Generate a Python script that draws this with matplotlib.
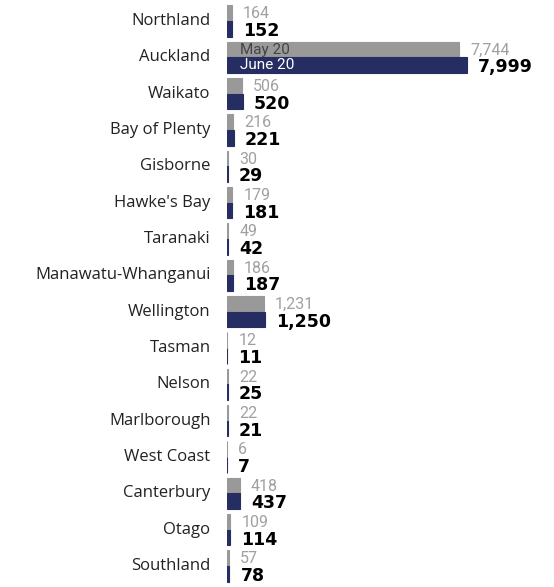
import numpy as np
import matplotlib.pyplot as plt

regions = ["Northland", "Auckland", "Waikato", "Bay of Plenty", "Gisborne",
           "Hawke's Bay", "Taranaki", "Manawatu-Whanganui", "Wellington",
           "Tasman", "Nelson", "Marlborough", "West Coast", "Canterbury",
           "Otago", "Southland"]
may20 = [164, 7744, 506, 216, 30, 179, 49, 186, 1231, 12, 22, 22, 6, 418, 109, 57]
june20 = [152, 7999, 520, 221, 29, 181, 42, 187, 1250, 11, 25, 21, 7, 437, 114, 78]

grey = "#999999"
navy = "#262d62"

fig = plt.figure(figsize=(5.54, 5.87), dpi=100)
ax = fig.add_axes([227 / 554, 0, 1 - 227 / 554, 1])

y = np.arange(len(regions))
h = 0.43
ax.barh(y - h / 2, may20, height=h, color=grey, edgecolor=grey, linewidth=0.8)
ax.barh(y + h / 2, june20, height=h, color=navy, edgecolor=navy, linewidth=0.8)

ax.set_xlim(0, 10900)
ax.set_ylim(15.578, -0.578)
ax.axis("off")

for i in range(len(regions)):
    ax.text(-550, i, regions[i], ha="right", va="center", fontsize=12,
            family="Open Sans", color="#222222")
    ax.annotate(f"{may20[i]:,}", (may20[i], i - h / 2), xytext=(8, -0.5),
                textcoords="offset points", ha="left", va="center",
                fontsize=11.5, family="Roboto", color="#a0a0a0")
    ax.annotate(f"{june20[i]:,}", (june20[i], i + h / 2), xytext=(8, -1.5),
                textcoords="offset points", ha="left", va="center",
                fontsize=12.5, family="DejaVu Sans", weight="bold", color="black")

ax.text(450, 1 - h / 2, "May 20", ha="left", va="center", fontsize=11,
        family="Roboto", color="#444444")
ax.text(450, 1 + h / 2, "June 20", ha="left", va="center", fontsize=11,
        family="Roboto", color="white")

fig.savefig("out.png", dpi=100)
